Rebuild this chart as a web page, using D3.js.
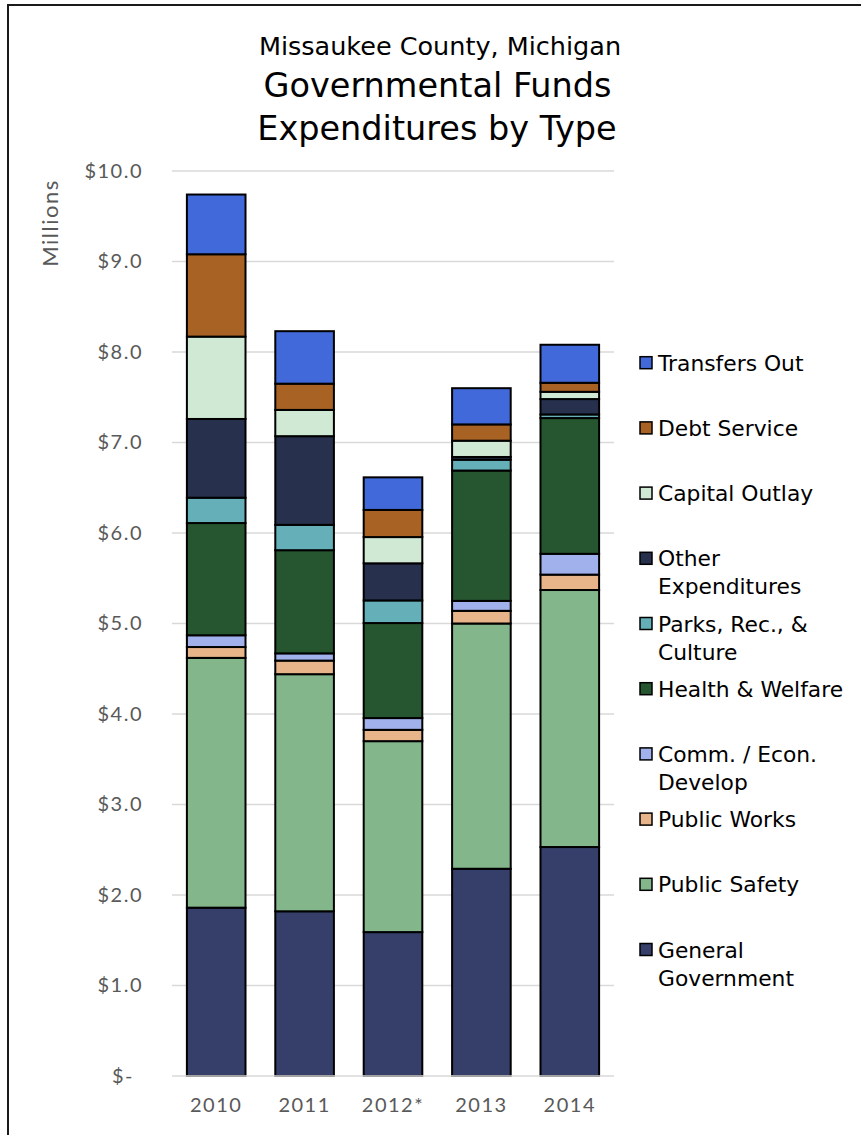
<!DOCTYPE html>
<html>
<head>
<meta charset="utf-8">
<script src="https://cdn.jsdelivr.net/npm/d3@7"></script>
<style>
  html, body { margin: 0; padding: 0; background: #fff; }
  svg { display: block; }
</style>
</head>
<body>
<svg id="chart" width="861" height="1135"></svg>
<script>
// ---- Data (millions of dollars) ----
const years = ["2010", "2011", "2012*", "2013", "2014"];
const seriesNames = ["General Government", "Public Safety", "Public Works", "Comm. / Econ. Develop",
  "Health & Welfare", "Parks, Rec., & Culture", "Other Expenditures", "Capital Outlay",
  "Debt Service", "Transfers Out"];
const generalGovernment = [1.86, 1.82, 1.59, 2.29, 2.53];
const publicSafety      = [2.76, 2.62, 2.11, 2.71, 2.84];
const publicWorks       = [0.12, 0.15, 0.125, 0.14, 0.17];
const commEconDevelop   = [0.13, 0.08, 0.13, 0.11, 0.23];
const healthWelfare     = [1.24, 1.14, 1.05, 1.44, 1.50];
const parksRecCulture   = [0.28, 0.28, 0.25, 0.12, 0.04];
const otherExpenditures = [0.87, 0.98, 0.41, 0.03, 0.17];
const capitalOutlay     = [0.91, 0.29, 0.29, 0.18, 0.08];
const debtService       = [0.91, 0.29, 0.30, 0.18, 0.10];
const transfersOut      = [0.66, 0.58, 0.36, 0.40, 0.42];
const yTicks = [0, 1, 2, 3, 4, 5, 6, 7, 8, 9, 10];
const colors = ["#353f69", "#83b68b", "#e8b48a", "#a1b1eb", "#265630",
  "#65afb8", "#27304d", "#cfe9d4", "#a86224", "#4169d9"];
const legendLabels = [["Transfers Out"], ["Debt Service"], ["Capital Outlay"], ["Other", "Expenditures"],
  ["Parks, Rec., &", "Culture"], ["Health & Welfare"], ["Comm. / Econ.", "Develop"],
  ["Public Works"], ["Public Safety"], ["General", "Government"]];

const seriesValues = [generalGovernment, publicSafety, publicWorks, commEconDevelop, healthWelfare,
  parksRecCulture, otherExpenditures, capitalOutlay, debtService, transfersOut];

const table = years.map((y, i) => {
  const row = { year: y };
  seriesNames.forEach((s, k) => row[s] = seriesValues[k][i]);
  return row;
});

const svg = d3.select("#chart");

// frame
svg.append("rect").attr("x", 8).attr("y", 5).attr("width", 900).attr("height", 1200)
  .attr("fill", "none").attr("stroke", "#1a1a1a").attr("stroke-width", 2);

const plot = { left: 172, right: 614, top: 171, bottom: 1076 };
const x = d3.scaleBand().domain(years).range([plot.left, plot.right]).paddingInner(0.337).paddingOuter(0.1685);
const y = d3.scaleLinear().domain([0, 10]).range([plot.bottom, plot.top]);

const axisFont = "Lato, 'Open Sans', sans-serif";

// gridlines
svg.append("g").selectAll("line").data(yTicks.filter(d => d > 0)).join("line")
  .attr("x1", plot.left).attr("x2", plot.right)
  .attr("y1", d => y(d)).attr("y2", d => y(d))
  .attr("stroke", "#d9d9d9").attr("stroke-width", 1.5);

// y axis
const yAxis = d3.axisLeft(y).tickValues(yTicks).tickSize(0).tickPadding(29)
  .tickFormat(d => d === 0 ? "$-" : "$" + d3.format(".1f")(d));
const gy = svg.append("g").attr("transform", `translate(${plot.left},0)`).call(yAxis);
gy.select(".domain").remove();
gy.selectAll("text").attr("font-family", axisFont).attr("font-size", 20)
  .attr("letter-spacing", 1.5).attr("fill", "#595959");
gy.selectAll(".tick").filter(d => d === 0).select("text").attr("dx", -9);

// stacked bars
const stack = d3.stack().keys(seriesNames);
const layers = stack(table);
svg.append("g").selectAll("g").data(layers).join("g")
  .attr("fill", (d, i) => colors[i])
  .selectAll("rect").data(d => d).join("rect")
  .attr("x", d => x(d.data.year))
  .attr("width", x.bandwidth())
  .attr("y", d => y(d[1]))
  .attr("height", d => y(d[0]) - y(d[1]))
  .attr("stroke", "#000").attr("stroke-width", 2);

// x axis
const xAxis = d3.axisBottom(x).tickSize(0).tickPadding(22);
const gx = svg.append("g").attr("transform", `translate(0,${plot.bottom})`).call(xAxis);
gx.select(".domain").attr("stroke", "#d9d9d9").attr("stroke-width", 1.5)
  .attr("d", `M${plot.left},0H${plot.right}`);
gx.selectAll("text").attr("font-family", axisFont).attr("font-size", 20)
  .attr("letter-spacing", 1.5).attr("fill", "#595959");

// y axis title
svg.append("text").attr("transform", "translate(58,223) rotate(-90)")
  .attr("text-anchor", "middle").attr("font-family", axisFont)
  .attr("font-size", 22).attr("letter-spacing", 1.5).attr("fill", "#595959").text("Millions");

// title
const tf = "'DejaVu Sans', Verdana, sans-serif";
svg.append("text").attr("x", 440).attr("y", 55).attr("text-anchor", "middle")
  .attr("font-family", tf).attr("font-size", 25.5).attr("fill", "#000").text("Missaukee County, Michigan");
svg.append("text").attr("x", 437.5).attr("y", 97).attr("text-anchor", "middle")
  .attr("font-family", tf).attr("font-size", 33.5).attr("fill", "#000").text("Governmental Funds");
svg.append("text").attr("x", 437).attr("y", 140).attr("text-anchor", "middle")
  .attr("font-family", tf).attr("font-size", 33.5).attr("fill", "#000").text("Expenditures by Type");

// legend
const legendColors = colors.slice().reverse();
const lg = svg.append("g");
legendLabels.forEach((lines, i) => {
  const cy = 362.7 + i * 65.2;
  lg.append("rect").attr("x", 640).attr("y", cy - 6).attr("width", 12).attr("height", 12)
    .attr("fill", legendColors[i]).attr("stroke", "#000").attr("stroke-width", 1.5);
  lines.forEach((t, j) => {
    lg.append("text").attr("x", 658).attr("y", cy + 8 + j * 28)
      .attr("font-family", tf).attr("font-size", 21.8).attr("fill", "#000").text(t);
  });
});
</script>
</body>
</html>
